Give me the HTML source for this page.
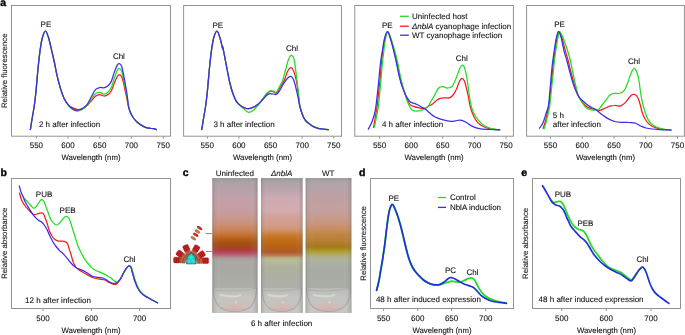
<!DOCTYPE html>
<html><head><meta charset="utf-8"><style>
html,body{margin:0;padding:0;background:#fff;}
svg{display:block;will-change:transform;}
text{font-family:"Liberation Sans",sans-serif;fill:#111;stroke:#111;stroke-width:0.1px;text-rendering:geometricPrecision;}
</style></head><body>
<svg width="685" height="335" viewBox="0 0 685 335" xmlns="http://www.w3.org/2000/svg">
<text x="0.3" y="5.9" font-size="10.5" font-weight="bold" style="fill:#000;stroke:#000;stroke-width:0.4px">a</text>
<text x="0.5" y="175.8" font-size="10.5" font-weight="bold" style="fill:#000;stroke:#000;stroke-width:0.4px">b</text>
<text x="182.7" y="175.9" font-size="10.5" font-weight="bold" style="fill:#000;stroke:#000;stroke-width:0.4px">c</text>
<text x="359.1" y="175.7" font-size="10.5" font-weight="bold" style="fill:#000;stroke:#000;stroke-width:0.4px">d</text>
<text x="521.3" y="175.9" font-size="10.5" font-weight="bold" style="fill:#000;stroke:#000;stroke-width:0.4px">e</text>
<rect x="11.5" y="5.5" width="159.0" height="130.7" fill="none" stroke="#939393" stroke-width="1"/>
<line x1="36.40" y1="136.2" x2="36.40" y2="138.7" stroke="#939393" stroke-width="1"/><line x1="68.00" y1="136.2" x2="68.00" y2="138.7" stroke="#939393" stroke-width="1"/><line x1="99.70" y1="136.2" x2="99.70" y2="138.7" stroke="#939393" stroke-width="1"/><line x1="131.40" y1="136.2" x2="131.40" y2="138.7" stroke="#939393" stroke-width="1"/><line x1="163.30" y1="136.2" x2="163.30" y2="138.7" stroke="#939393" stroke-width="1"/>
<text x="36.40" y="148.00" font-size="8.00" text-anchor="middle" >550</text><text x="68.00" y="148.00" font-size="8.00" text-anchor="middle" >600</text><text x="99.70" y="148.00" font-size="8.00" text-anchor="middle" >650</text><text x="131.40" y="148.00" font-size="8.00" text-anchor="middle" >700</text><text x="163.30" y="148.00" font-size="8.00" text-anchor="middle" >750</text>
<text x="91.00" y="159.90" font-size="7.80" text-anchor="middle" >Wavelength (nm)</text>
<rect x="183.6" y="5.5" width="157.9" height="130.7" fill="none" stroke="#939393" stroke-width="1"/>
<line x1="207.30" y1="136.2" x2="207.30" y2="138.7" stroke="#939393" stroke-width="1"/><line x1="238.90" y1="136.2" x2="238.90" y2="138.7" stroke="#939393" stroke-width="1"/><line x1="270.60" y1="136.2" x2="270.60" y2="138.7" stroke="#939393" stroke-width="1"/><line x1="302.20" y1="136.2" x2="302.20" y2="138.7" stroke="#939393" stroke-width="1"/><line x1="333.80" y1="136.2" x2="333.80" y2="138.7" stroke="#939393" stroke-width="1"/>
<text x="207.30" y="148.00" font-size="8.00" text-anchor="middle" >550</text><text x="238.90" y="148.00" font-size="8.00" text-anchor="middle" >600</text><text x="270.60" y="148.00" font-size="8.00" text-anchor="middle" >650</text><text x="302.20" y="148.00" font-size="8.00" text-anchor="middle" >700</text><text x="333.80" y="148.00" font-size="8.00" text-anchor="middle" >750</text>
<text x="262.55" y="159.90" font-size="7.80" text-anchor="middle" >Wavelength (nm)</text>
<rect x="354.8" y="5.5" width="158.6" height="130.7" fill="none" stroke="#939393" stroke-width="1"/>
<line x1="379.60" y1="136.2" x2="379.60" y2="138.7" stroke="#939393" stroke-width="1"/><line x1="411.20" y1="136.2" x2="411.20" y2="138.7" stroke="#939393" stroke-width="1"/><line x1="442.80" y1="136.2" x2="442.80" y2="138.7" stroke="#939393" stroke-width="1"/><line x1="474.50" y1="136.2" x2="474.50" y2="138.7" stroke="#939393" stroke-width="1"/><line x1="506.10" y1="136.2" x2="506.10" y2="138.7" stroke="#939393" stroke-width="1"/>
<text x="379.60" y="148.00" font-size="8.00" text-anchor="middle" >550</text><text x="411.20" y="148.00" font-size="8.00" text-anchor="middle" >600</text><text x="442.80" y="148.00" font-size="8.00" text-anchor="middle" >650</text><text x="474.50" y="148.00" font-size="8.00" text-anchor="middle" >700</text><text x="506.10" y="148.00" font-size="8.00" text-anchor="middle" >750</text>
<text x="434.10" y="159.90" font-size="7.80" text-anchor="middle" >Wavelength (nm)</text>
<rect x="526.6" y="5.5" width="157.8" height="130.7" fill="none" stroke="#939393" stroke-width="1"/>
<line x1="550.50" y1="136.2" x2="550.50" y2="138.7" stroke="#939393" stroke-width="1"/><line x1="582.30" y1="136.2" x2="582.30" y2="138.7" stroke="#939393" stroke-width="1"/><line x1="614.00" y1="136.2" x2="614.00" y2="138.7" stroke="#939393" stroke-width="1"/><line x1="645.70" y1="136.2" x2="645.70" y2="138.7" stroke="#939393" stroke-width="1"/><line x1="677.50" y1="136.2" x2="677.50" y2="138.7" stroke="#939393" stroke-width="1"/>
<text x="550.50" y="148.00" font-size="8.00" text-anchor="middle" >550</text><text x="582.30" y="148.00" font-size="8.00" text-anchor="middle" >600</text><text x="614.00" y="148.00" font-size="8.00" text-anchor="middle" >650</text><text x="645.70" y="148.00" font-size="8.00" text-anchor="middle" >700</text><text x="677.50" y="148.00" font-size="8.00" text-anchor="middle" >750</text>
<text x="605.50" y="159.90" font-size="7.80" text-anchor="middle" >Wavelength (nm)</text>
<text x="0" y="0" font-size="7.80" text-anchor="middle" transform="translate(6.90 70.80) rotate(-90)">Relative fluorescence</text>
<path d="M30.40 129.50C30.70 127.58 31.58 121.75 32.20 118.00C32.82 114.25 33.53 110.83 34.10 107.00C34.67 103.17 35.18 98.77 35.60 95.00C36.02 91.23 36.27 88.07 36.60 84.40C36.93 80.73 37.25 76.73 37.60 73.00C37.95 69.27 38.25 66.02 38.70 62.00C39.15 57.98 39.68 52.98 40.30 48.90C40.92 44.82 41.53 40.45 42.40 37.50C43.27 34.55 44.48 31.20 45.50 31.20C46.52 31.20 47.53 34.55 48.50 37.50C49.47 40.45 50.33 44.82 51.30 48.90C52.27 52.98 53.35 57.58 54.30 62.00C55.25 66.42 55.95 70.92 57.00 75.40C58.05 79.88 59.43 85.08 60.60 88.90C61.77 92.72 62.77 95.68 64.00 98.30C65.23 100.92 66.53 103.00 68.00 104.60C69.47 106.20 71.13 107.08 72.80 107.90C74.47 108.72 76.30 109.42 78.00 109.50C79.70 109.58 81.47 109.05 83.00 108.40C84.53 107.75 85.78 106.90 87.20 105.60C88.62 104.30 90.13 102.17 91.50 100.60C92.87 99.03 94.00 97.20 95.40 96.20C96.80 95.20 98.52 94.63 99.90 94.60C101.28 94.57 102.45 95.92 103.70 96.00C104.95 96.08 106.17 95.90 107.40 95.10C108.63 94.30 109.98 93.08 111.10 91.20C112.22 89.32 113.10 86.20 114.10 83.80C115.10 81.40 116.18 78.32 117.10 76.80C118.02 75.28 118.78 74.57 119.60 74.70C120.42 74.83 121.20 75.55 122.00 77.60C122.80 79.65 123.67 83.85 124.40 87.00C125.13 90.15 125.83 93.75 126.40 96.50C126.97 99.25 127.37 101.48 127.80 103.50C128.23 105.52 128.52 107.03 129.00 108.60C129.48 110.17 129.95 111.33 130.70 112.90C131.45 114.47 132.45 116.48 133.50 118.00C134.55 119.52 135.77 120.85 137.00 122.00C138.23 123.15 139.48 124.02 140.90 124.90C142.32 125.78 143.98 126.73 145.50 127.30C147.02 127.87 148.67 128.07 150.00 128.30C151.33 128.53 152.43 128.48 153.50 128.70C154.57 128.92 155.92 129.45 156.40 129.60" fill="none" stroke="#f21c1c" stroke-width="1.25" stroke-linejoin="round" stroke-linecap="round"/>
<path d="M30.40 129.50C30.70 127.58 31.58 121.75 32.20 118.00C32.82 114.25 33.53 110.83 34.10 107.00C34.67 103.17 35.18 98.77 35.60 95.00C36.02 91.23 36.27 88.07 36.60 84.40C36.93 80.73 37.25 76.73 37.60 73.00C37.95 69.27 38.25 66.02 38.70 62.00C39.15 57.98 39.68 52.98 40.30 48.90C40.92 44.82 41.53 40.45 42.40 37.50C43.27 34.55 44.48 31.20 45.50 31.20C46.52 31.20 47.53 34.55 48.50 37.50C49.47 40.45 50.33 44.82 51.30 48.90C52.27 52.98 53.35 57.58 54.30 62.00C55.25 66.42 55.95 70.92 57.00 75.40C58.05 79.88 59.43 85.08 60.60 88.90C61.77 92.72 62.77 95.68 64.00 98.30C65.23 100.92 66.67 102.82 68.00 104.60C69.33 106.38 70.50 107.90 72.00 109.00C73.50 110.10 75.28 111.12 77.00 111.20C78.72 111.28 80.60 110.50 82.30 109.50C84.00 108.50 85.67 106.95 87.20 105.20C88.73 103.45 90.13 100.90 91.50 99.00C92.87 97.10 94.00 94.92 95.40 93.80C96.80 92.68 98.52 92.25 99.90 92.30C101.28 92.35 102.45 94.03 103.70 94.10C104.95 94.17 106.17 93.75 107.40 92.70C108.63 91.65 109.98 90.08 111.10 87.80C112.22 85.52 113.10 81.83 114.10 79.00C115.10 76.17 116.23 72.52 117.10 70.80C117.97 69.08 118.55 68.62 119.30 68.70C120.05 68.78 120.80 69.17 121.60 71.30C122.40 73.43 123.33 78.05 124.10 81.50C124.87 84.95 125.62 88.92 126.20 92.00C126.78 95.08 127.17 97.42 127.60 100.00C128.03 102.58 128.28 105.35 128.80 107.50C129.32 109.65 129.92 111.15 130.70 112.90C131.48 114.65 132.45 116.48 133.50 118.00C134.55 119.52 135.77 120.85 137.00 122.00C138.23 123.15 139.48 124.02 140.90 124.90C142.32 125.78 143.98 126.73 145.50 127.30C147.02 127.87 148.67 128.07 150.00 128.30C151.33 128.53 152.43 128.48 153.50 128.70C154.57 128.92 155.92 129.45 156.40 129.60" fill="none" stroke="#22dc22" stroke-width="1.25" stroke-linejoin="round" stroke-linecap="round"/>
<path d="M30.40 129.50C30.70 127.58 31.58 121.75 32.20 118.00C32.82 114.25 33.53 110.83 34.10 107.00C34.67 103.17 35.18 98.77 35.60 95.00C36.02 91.23 36.27 88.07 36.60 84.40C36.93 80.73 37.25 76.73 37.60 73.00C37.95 69.27 38.25 66.02 38.70 62.00C39.15 57.98 39.68 52.98 40.30 48.90C40.92 44.82 41.53 40.45 42.40 37.50C43.27 34.55 44.48 31.20 45.50 31.20C46.52 31.20 47.53 34.55 48.50 37.50C49.47 40.45 50.33 44.82 51.30 48.90C52.27 52.98 53.35 57.58 54.30 62.00C55.25 66.42 55.95 70.92 57.00 75.40C58.05 79.88 59.43 85.08 60.60 88.90C61.77 92.72 62.77 95.68 64.00 98.30C65.23 100.92 66.67 102.90 68.00 104.60C69.33 106.30 70.60 107.55 72.00 108.50C73.40 109.45 74.68 110.27 76.40 110.30C78.12 110.33 80.50 109.70 82.30 108.70C84.10 107.70 85.67 106.33 87.20 104.30C88.73 102.27 90.13 98.95 91.50 96.50C92.87 94.05 94.00 91.10 95.40 89.60C96.80 88.10 98.52 87.80 99.90 87.50C101.28 87.20 102.45 88.00 103.70 87.80C104.95 87.60 106.17 87.28 107.40 86.30C108.63 85.32 109.98 84.13 111.10 81.90C112.22 79.67 113.10 75.65 114.10 72.90C115.10 70.15 116.23 66.93 117.10 65.40C117.97 63.87 118.55 63.57 119.30 63.70C120.05 63.83 120.80 63.92 121.60 66.20C122.40 68.48 123.33 73.60 124.10 77.40C124.87 81.20 125.65 85.73 126.20 89.00C126.75 92.27 127.00 94.02 127.40 97.00C127.80 99.98 128.05 104.25 128.60 106.90C129.15 109.55 129.88 111.05 130.70 112.90C131.52 114.75 132.45 116.48 133.50 118.00C134.55 119.52 135.77 120.85 137.00 122.00C138.23 123.15 139.48 124.02 140.90 124.90C142.32 125.78 143.98 126.73 145.50 127.30C147.02 127.87 148.67 128.07 150.00 128.30C151.33 128.53 152.43 128.48 153.50 128.70C154.57 128.92 155.92 129.45 156.40 129.60" fill="none" stroke="#3a2cf0" stroke-width="1.25" stroke-linejoin="round" stroke-linecap="round"/>
<path d="M201.80 129.50C202.10 127.58 202.98 121.75 203.60 118.00C204.22 114.25 204.93 110.83 205.50 107.00C206.07 103.17 206.58 98.77 207.00 95.00C207.42 91.23 207.67 88.07 208.00 84.40C208.33 80.73 208.65 76.73 209.00 73.00C209.35 69.27 209.65 66.02 210.10 62.00C210.55 57.98 211.08 52.98 211.70 48.90C212.32 44.82 212.93 40.45 213.80 37.50C214.67 34.55 215.88 31.20 216.90 31.20C217.92 31.20 218.93 34.55 219.90 37.50C220.87 40.45 222.22 47.28 222.70 48.90C223.18 50.52 222.33 45.18 222.80 47.20C223.27 49.22 224.67 56.70 225.50 61.00C226.33 65.30 227.05 69.25 227.80 73.00C228.55 76.75 229.27 80.42 230.00 83.50C230.73 86.58 231.45 89.17 232.20 91.50C232.95 93.83 233.75 95.77 234.50 97.50C235.25 99.23 235.78 100.60 236.70 101.90C237.62 103.20 238.78 104.35 240.00 105.30C241.22 106.25 242.60 107.00 244.00 107.60C245.40 108.20 246.73 109.00 248.40 108.90C250.07 108.80 252.30 107.82 254.00 107.00C255.70 106.18 257.10 105.37 258.60 104.00C260.10 102.63 261.60 100.55 263.00 98.80C264.40 97.05 265.67 94.77 267.00 93.50C268.33 92.23 269.83 91.42 271.00 91.20C272.17 90.98 273.08 91.90 274.00 92.20C274.92 92.50 275.50 93.78 276.50 93.00C277.50 92.22 278.68 89.67 280.00 87.50C281.32 85.33 283.15 82.67 284.40 80.00C285.65 77.33 286.40 73.58 287.50 71.50C288.60 69.42 289.95 67.50 291.00 67.50C292.05 67.50 292.90 69.25 293.80 71.50C294.70 73.75 295.63 77.08 296.40 81.00C297.17 84.92 297.88 91.08 298.40 95.00C298.92 98.92 299.07 101.92 299.50 104.50C299.93 107.08 300.35 108.43 301.00 110.50C301.65 112.57 302.57 115.15 303.40 116.90C304.23 118.65 304.87 119.73 306.00 121.00C307.13 122.27 308.87 123.52 310.20 124.50C311.53 125.48 312.70 126.27 314.00 126.90C315.30 127.53 316.50 127.95 318.00 128.30C319.50 128.65 321.28 128.77 323.00 129.00C324.72 129.23 327.42 129.58 328.30 129.70" fill="none" stroke="#f21c1c" stroke-width="1.25" stroke-linejoin="round" stroke-linecap="round"/>
<path d="M201.80 129.50C202.10 127.58 202.98 121.75 203.60 118.00C204.22 114.25 204.93 110.83 205.50 107.00C206.07 103.17 206.58 98.77 207.00 95.00C207.42 91.23 207.67 88.07 208.00 84.40C208.33 80.73 208.65 76.73 209.00 73.00C209.35 69.27 209.65 66.02 210.10 62.00C210.55 57.98 211.08 52.98 211.70 48.90C212.32 44.82 212.93 40.45 213.80 37.50C214.67 34.55 215.88 31.20 216.90 31.20C217.92 31.20 218.93 34.55 219.90 37.50C220.87 40.45 222.22 47.28 222.70 48.90C223.18 50.52 222.33 45.18 222.80 47.20C223.27 49.22 224.67 56.70 225.50 61.00C226.33 65.30 227.05 69.25 227.80 73.00C228.55 76.75 229.27 80.42 230.00 83.50C230.73 86.58 231.45 89.17 232.20 91.50C232.95 93.83 233.75 95.77 234.50 97.50C235.25 99.23 235.78 100.60 236.70 101.90C237.62 103.20 238.78 104.12 240.00 105.30C241.22 106.48 242.67 107.85 244.00 109.00C245.33 110.15 246.50 111.95 248.00 112.20C249.50 112.45 251.23 111.78 253.00 110.50C254.77 109.22 256.93 106.50 258.60 104.50C260.27 102.50 261.60 100.42 263.00 98.50C264.40 96.58 265.65 94.30 267.00 93.00C268.35 91.70 269.93 90.95 271.10 90.70C272.27 90.45 273.10 91.28 274.00 91.50C274.90 91.72 275.58 92.83 276.50 92.00C277.42 91.17 278.45 88.50 279.50 86.50C280.55 84.50 281.80 82.75 282.80 80.00C283.80 77.25 284.55 73.42 285.50 70.00C286.45 66.58 287.52 61.93 288.50 59.50C289.48 57.07 290.45 55.32 291.40 55.40C292.35 55.48 293.28 55.90 294.20 60.00C295.12 64.10 296.17 74.33 296.90 80.00C297.63 85.67 298.13 89.92 298.60 94.00C299.07 98.08 299.30 101.75 299.70 104.50C300.10 107.25 300.38 108.43 301.00 110.50C301.62 112.57 302.57 115.15 303.40 116.90C304.23 118.65 304.87 119.73 306.00 121.00C307.13 122.27 308.87 123.52 310.20 124.50C311.53 125.48 312.70 126.27 314.00 126.90C315.30 127.53 316.50 127.95 318.00 128.30C319.50 128.65 321.28 128.77 323.00 129.00C324.72 129.23 327.42 129.58 328.30 129.70" fill="none" stroke="#22dc22" stroke-width="1.25" stroke-linejoin="round" stroke-linecap="round"/>
<path d="M201.80 129.50C202.10 127.58 202.98 121.75 203.60 118.00C204.22 114.25 204.93 110.83 205.50 107.00C206.07 103.17 206.58 98.77 207.00 95.00C207.42 91.23 207.67 88.07 208.00 84.40C208.33 80.73 208.65 76.73 209.00 73.00C209.35 69.27 209.65 66.02 210.10 62.00C210.55 57.98 211.08 52.98 211.70 48.90C212.32 44.82 212.93 40.45 213.80 37.50C214.67 34.55 215.88 31.20 216.90 31.20C217.92 31.20 218.93 34.55 219.90 37.50C220.87 40.45 222.22 47.28 222.70 48.90C223.18 50.52 222.33 45.18 222.80 47.20C223.27 49.22 224.67 56.70 225.50 61.00C226.33 65.30 227.05 69.25 227.80 73.00C228.55 76.75 229.27 80.42 230.00 83.50C230.73 86.58 231.45 89.17 232.20 91.50C232.95 93.83 233.75 95.77 234.50 97.50C235.25 99.23 235.78 100.60 236.70 101.90C237.62 103.20 238.78 104.35 240.00 105.30C241.22 106.25 242.60 107.03 244.00 107.60C245.40 108.17 246.73 108.83 248.40 108.70C250.07 108.57 252.30 107.62 254.00 106.80C255.70 105.98 257.10 105.05 258.60 103.80C260.10 102.55 261.60 100.77 263.00 99.30C264.40 97.83 265.83 95.93 267.00 95.00C268.17 94.07 269.00 93.87 270.00 93.70C271.00 93.53 271.92 93.90 273.00 94.00C274.08 94.10 275.33 94.97 276.50 94.30C277.67 93.63 278.80 91.80 280.00 90.00C281.20 88.20 282.45 85.45 283.70 83.50C284.95 81.55 286.33 79.50 287.50 78.30C288.67 77.10 289.70 76.10 290.70 76.30C291.70 76.50 292.58 77.38 293.50 79.50C294.42 81.62 295.42 85.92 296.20 89.00C296.98 92.08 297.67 95.42 298.20 98.00C298.73 100.58 298.93 102.42 299.40 104.50C299.87 106.58 300.33 108.43 301.00 110.50C301.67 112.57 302.57 115.15 303.40 116.90C304.23 118.65 304.87 119.73 306.00 121.00C307.13 122.27 308.87 123.52 310.20 124.50C311.53 125.48 312.70 126.27 314.00 126.90C315.30 127.53 316.50 127.95 318.00 128.30C319.50 128.65 321.28 128.77 323.00 129.00C324.72 129.23 327.42 129.58 328.30 129.70" fill="none" stroke="#3a2cf0" stroke-width="1.25" stroke-linejoin="round" stroke-linecap="round"/>
<path d="M373.60 127.30C373.87 125.75 374.60 121.58 375.20 118.00C375.80 114.42 376.62 110.13 377.20 105.80C377.78 101.47 378.23 96.30 378.70 92.00C379.17 87.70 379.60 84.17 380.00 80.00C380.40 75.83 380.65 71.67 381.10 67.00C381.55 62.33 382.08 56.67 382.70 52.00C383.32 47.33 383.98 42.40 384.80 39.00C385.62 35.60 386.62 31.60 387.60 31.60C388.58 31.60 389.63 35.77 390.70 39.00C391.77 42.23 392.95 46.92 394.00 51.00C395.05 55.08 396.18 59.83 397.00 63.50C397.82 67.17 398.18 69.75 398.90 73.00C399.62 76.25 400.43 79.92 401.30 83.00C402.17 86.08 403.15 88.83 404.10 91.50C405.05 94.17 405.95 96.77 407.00 99.00C408.05 101.23 409.07 103.60 410.40 104.90C411.73 106.20 413.57 106.32 415.00 106.80C416.43 107.28 417.83 107.53 419.00 107.80C420.17 108.07 420.88 108.35 422.00 108.40C423.12 108.45 424.53 108.50 425.70 108.10C426.87 107.70 427.80 106.73 429.00 106.00C430.20 105.27 431.65 104.62 432.90 103.70C434.15 102.78 435.32 101.38 436.50 100.50C437.68 99.62 438.67 98.85 440.00 98.40C441.33 97.95 442.97 97.88 444.50 97.80C446.03 97.72 447.77 98.37 449.20 97.90C450.63 97.43 451.88 96.48 453.10 95.00C454.32 93.52 455.43 91.30 456.50 89.00C457.57 86.70 458.60 82.98 459.50 81.20C460.40 79.42 461.08 78.33 461.90 78.30C462.72 78.27 463.62 79.22 464.40 81.00C465.18 82.78 465.97 86.50 466.60 89.00C467.23 91.50 467.70 93.58 468.20 96.00C468.70 98.42 469.05 101.03 469.60 103.50C470.15 105.97 470.77 108.55 471.50 110.80C472.23 113.05 473.12 115.25 474.00 117.00C474.88 118.75 475.80 120.05 476.80 121.30C477.80 122.55 478.92 123.63 480.00 124.50C481.08 125.37 481.87 125.83 483.30 126.50C484.73 127.17 486.82 128.03 488.60 128.50C490.38 128.97 492.15 129.08 494.00 129.30C495.85 129.52 498.75 129.72 499.70 129.80" fill="none" stroke="#f21c1c" stroke-width="1.25" stroke-linejoin="round" stroke-linecap="round"/>
<path d="M374.50 127.00C374.78 125.50 375.53 121.53 376.20 118.00C376.87 114.47 377.90 110.13 378.50 105.80C379.10 101.47 379.38 96.30 379.80 92.00C380.22 87.70 380.63 84.17 381.00 80.00C381.37 75.83 381.57 71.50 382.00 67.00C382.43 62.50 383.03 57.58 383.60 53.00C384.17 48.42 384.68 43.05 385.40 39.50C386.12 35.95 386.95 31.78 387.90 31.70C388.85 31.62 389.95 35.78 391.10 39.00C392.25 42.22 393.68 46.92 394.80 51.00C395.92 55.08 396.98 59.83 397.80 63.50C398.62 67.17 399.02 69.75 399.70 73.00C400.38 76.25 401.13 79.92 401.90 83.00C402.67 86.08 403.45 88.58 404.30 91.50C405.15 94.42 405.98 97.75 407.00 100.50C408.02 103.25 409.40 106.32 410.40 108.00C411.40 109.68 411.90 110.10 413.00 110.60C414.10 111.10 415.83 111.00 417.00 111.00C418.17 111.00 419.08 110.80 420.00 110.60C420.92 110.40 421.63 110.13 422.50 109.80C423.37 109.47 424.27 109.15 425.20 108.60C426.13 108.05 427.13 107.68 428.10 106.50C429.07 105.32 429.90 103.42 431.00 101.50C432.10 99.58 433.48 97.17 434.70 95.00C435.92 92.83 437.10 89.88 438.30 88.50C439.50 87.12 440.83 86.92 441.90 86.70C442.97 86.48 443.72 86.98 444.70 87.20C445.68 87.42 446.63 88.08 447.80 88.00C448.97 87.92 450.58 87.70 451.70 86.70C452.82 85.70 453.53 84.03 454.50 82.00C455.47 79.97 456.55 76.92 457.50 74.50C458.45 72.08 459.37 69.05 460.20 67.50C461.03 65.95 461.73 65.03 462.50 65.20C463.27 65.37 464.07 66.37 464.80 68.50C465.53 70.63 466.27 74.42 466.90 78.00C467.53 81.58 468.08 86.33 468.60 90.00C469.12 93.67 469.50 97.08 470.00 100.00C470.50 102.92 471.02 105.42 471.60 107.50C472.18 109.58 472.72 110.83 473.50 112.50C474.28 114.17 475.32 116.03 476.30 117.50C477.28 118.97 478.37 120.13 479.40 121.30C480.43 122.47 481.40 123.63 482.50 124.50C483.60 125.37 484.67 125.87 486.00 126.50C487.33 127.13 489.00 127.87 490.50 128.30C492.00 128.73 493.47 128.85 495.00 129.10C496.53 129.35 498.92 129.68 499.70 129.80" fill="none" stroke="#22dc22" stroke-width="1.25" stroke-linejoin="round" stroke-linecap="round"/>
<path d="M368.30 129.10C368.58 128.58 369.40 127.18 370.00 126.00C370.60 124.82 371.15 124.00 371.90 122.00C372.65 120.00 373.82 116.70 374.50 114.00C375.18 111.30 375.45 109.80 376.00 105.80C376.55 101.80 377.25 95.13 377.80 90.00C378.35 84.87 378.83 79.67 379.30 75.00C379.77 70.33 380.08 66.03 380.60 62.00C381.12 57.97 381.75 54.72 382.40 50.80C383.05 46.88 383.67 41.72 384.50 38.50C385.33 35.28 386.42 31.50 387.40 31.50C388.38 31.50 389.35 35.28 390.40 38.50C391.45 41.72 392.68 46.72 393.70 50.80C394.72 54.88 395.70 59.30 396.50 63.00C397.30 66.70 397.75 69.67 398.50 73.00C399.25 76.33 400.07 79.92 401.00 83.00C401.93 86.08 403.10 89.08 404.10 91.50C405.10 93.92 405.95 95.75 407.00 97.50C408.05 99.25 409.07 100.98 410.40 102.00C411.73 103.02 413.57 103.02 415.00 103.60C416.43 104.18 417.83 104.87 419.00 105.50C420.17 106.13 421.02 106.85 422.00 107.40C422.98 107.95 423.65 107.90 424.90 108.80C426.15 109.70 427.87 111.48 429.50 112.80C431.13 114.12 432.73 115.62 434.70 116.70C436.67 117.78 438.67 118.53 441.30 119.30C443.93 120.07 448.13 121.05 450.50 121.30C452.87 121.55 453.97 120.98 455.50 120.80C457.03 120.62 458.23 120.12 459.70 120.20C461.17 120.28 462.92 120.75 464.30 121.30C465.68 121.85 466.80 122.73 468.00 123.50C469.20 124.27 470.17 125.18 471.50 125.90C472.83 126.62 474.47 127.30 476.00 127.80C477.53 128.30 478.37 128.62 480.70 128.90C483.03 129.18 486.83 129.35 490.00 129.50C493.17 129.65 498.08 129.75 499.70 129.80" fill="none" stroke="#3a2cf0" stroke-width="1.25" stroke-linejoin="round" stroke-linecap="round"/>
<path d="M543.10 128.50C543.47 127.33 544.60 124.08 545.30 121.50C546.00 118.92 546.70 115.62 547.30 113.00C547.90 110.38 548.33 109.63 548.90 105.80C549.47 101.97 550.17 94.97 550.70 90.00C551.23 85.03 551.65 80.50 552.10 76.00C552.55 71.50 552.93 67.08 553.40 63.00C553.87 58.92 554.32 55.50 554.90 51.50C555.48 47.50 556.25 42.32 556.90 39.00C557.55 35.68 557.98 31.85 558.80 31.60C559.62 31.35 560.70 34.30 561.80 37.50C562.90 40.70 564.32 46.88 565.40 50.80C566.48 54.72 567.47 57.80 568.30 61.00C569.13 64.20 569.70 67.17 570.40 70.00C571.10 72.83 571.68 75.08 572.50 78.00C573.32 80.92 574.23 84.35 575.30 87.50C576.37 90.65 577.28 93.95 578.90 96.90C580.52 99.85 583.37 103.42 585.00 105.20C586.63 106.98 587.45 106.97 588.70 107.60C589.95 108.23 591.22 108.62 592.50 109.00C593.78 109.38 595.18 109.68 596.40 109.90C597.62 110.12 598.53 110.50 599.80 110.30C601.07 110.10 602.32 109.38 604.00 108.70C605.68 108.02 608.07 106.73 609.90 106.20C611.73 105.67 613.33 105.52 615.00 105.50C616.67 105.48 618.65 106.22 619.90 106.10C621.15 105.98 621.60 105.38 622.50 104.80C623.40 104.22 624.30 103.65 625.30 102.60C626.30 101.55 627.47 99.77 628.50 98.50C629.53 97.23 630.58 95.70 631.50 95.00C632.42 94.30 633.17 94.20 634.00 94.30C634.83 94.40 635.72 94.68 636.50 95.60C637.28 96.52 638.05 98.15 638.70 99.80C639.35 101.45 639.88 103.63 640.40 105.50C640.92 107.37 641.27 109.25 641.80 111.00C642.33 112.75 642.95 114.50 643.60 116.00C644.25 117.50 644.87 118.73 645.70 120.00C646.53 121.27 647.52 122.55 648.60 123.60C649.68 124.65 650.97 125.60 652.20 126.30C653.43 127.00 654.67 127.40 656.00 127.80C657.33 128.20 658.70 128.42 660.20 128.70C661.70 128.98 663.20 129.28 665.00 129.50C666.80 129.72 670.00 129.92 671.00 130.00" fill="none" stroke="#f21c1c" stroke-width="1.25" stroke-linejoin="round" stroke-linecap="round"/>
<path d="M544.00 129.00C544.38 127.75 545.58 124.17 546.30 121.50C547.02 118.83 547.73 115.62 548.30 113.00C548.87 110.38 549.18 109.63 549.70 105.80C550.22 101.97 550.87 94.97 551.40 90.00C551.93 85.03 552.43 80.50 552.90 76.00C553.37 71.50 553.73 67.17 554.20 63.00C554.67 58.83 555.12 55.00 555.70 51.00C556.28 47.00 557.05 42.23 557.70 39.00C558.35 35.77 558.72 31.85 559.60 31.60C560.48 31.35 561.67 34.30 563.00 37.50C564.33 40.70 566.35 46.88 567.60 50.80C568.85 54.72 569.72 57.80 570.50 61.00C571.28 64.20 571.72 67.17 572.30 70.00C572.88 72.83 573.35 75.08 574.00 78.00C574.65 80.92 575.38 84.35 576.20 87.50C577.02 90.65 577.43 93.73 578.90 96.90C580.37 100.07 583.37 104.45 585.00 106.50C586.63 108.55 587.45 108.60 588.70 109.20C589.95 109.80 591.22 109.97 592.50 110.10C593.78 110.23 595.40 110.10 596.40 110.00C597.40 109.90 597.57 110.33 598.50 109.50C599.43 108.67 600.67 106.70 602.00 105.00C603.33 103.30 605.30 100.87 606.50 99.30C607.70 97.73 608.30 96.48 609.20 95.60C610.10 94.72 611.02 94.37 611.90 94.00C612.78 93.63 613.57 93.48 614.50 93.40C615.43 93.32 616.37 93.62 617.50 93.50C618.63 93.38 620.12 93.28 621.30 92.70C622.48 92.12 623.52 91.70 624.60 90.00C625.68 88.30 626.68 85.42 627.80 82.50C628.92 79.58 630.22 74.87 631.30 72.50C632.38 70.13 633.35 68.30 634.30 68.30C635.25 68.30 636.22 70.38 637.00 72.50C637.78 74.62 638.42 77.75 639.00 81.00C639.58 84.25 639.97 88.58 640.50 92.00C641.03 95.42 641.60 98.70 642.20 101.50C642.80 104.30 643.47 106.63 644.10 108.80C644.73 110.97 645.33 112.70 646.00 114.50C646.67 116.30 647.27 118.10 648.10 119.60C648.93 121.10 649.87 122.38 651.00 123.50C652.13 124.62 653.40 125.50 654.90 126.30C656.40 127.10 658.32 127.80 660.00 128.30C661.68 128.80 663.17 129.02 665.00 129.30C666.83 129.58 670.00 129.88 671.00 130.00" fill="none" stroke="#22dc22" stroke-width="1.25" stroke-linejoin="round" stroke-linecap="round"/>
<path d="M539.50 128.20C539.83 127.75 540.83 126.62 541.50 125.50C542.17 124.38 542.72 123.58 543.50 121.50C544.28 119.42 545.38 115.62 546.20 113.00C547.02 110.38 547.77 109.63 548.40 105.80C549.03 101.97 549.53 94.97 550.00 90.00C550.47 85.03 550.78 80.50 551.20 76.00C551.62 71.50 552.00 67.20 552.50 63.00C553.00 58.80 553.58 54.88 554.20 50.80C554.82 46.72 555.52 41.72 556.20 38.50C556.88 35.28 557.50 31.75 558.30 31.50C559.10 31.25 560.05 33.78 561.00 37.00C561.95 40.22 563.00 46.80 564.00 50.80C565.00 54.80 566.12 57.80 567.00 61.00C567.88 64.20 568.55 67.17 569.30 70.00C570.05 72.83 570.63 75.08 571.50 78.00C572.37 80.92 573.27 84.35 574.50 87.50C575.73 90.65 577.15 94.35 578.90 96.90C580.65 99.45 583.37 101.32 585.00 102.80C586.63 104.28 587.45 104.93 588.70 105.80C589.95 106.67 591.22 107.32 592.50 108.00C593.78 108.68 595.07 108.98 596.40 109.90C597.73 110.82 599.03 112.33 600.50 113.50C601.97 114.67 603.62 115.88 605.20 116.90C606.78 117.92 608.43 118.83 610.00 119.60C611.57 120.37 612.60 121.05 614.60 121.50C616.60 121.95 619.55 122.13 622.00 122.30C624.45 122.47 627.18 122.40 629.30 122.50C631.42 122.60 633.25 122.57 634.70 122.90C636.15 123.23 636.88 123.93 638.00 124.50C639.12 125.07 640.07 125.72 641.40 126.30C642.73 126.88 644.20 127.55 646.00 128.00C647.80 128.45 649.87 128.73 652.20 129.00C654.53 129.27 656.87 129.43 660.00 129.60C663.13 129.77 669.17 129.93 671.00 130.00" fill="none" stroke="#3a2cf0" stroke-width="1.25" stroke-linejoin="round" stroke-linecap="round"/>
<text x="40.60" y="27.40" font-size="8.00" text-anchor="start" >PE</text>
<text x="112.90" y="59.30" font-size="8.00" text-anchor="start" >Chl</text>
<text x="38.90" y="126.90" font-size="8.00" text-anchor="start" >2 h after infection</text>
<text x="212.40" y="27.90" font-size="8.00" text-anchor="start" >PE</text>
<text x="286.00" y="51.10" font-size="8.00" text-anchor="start" >Chl</text>
<text x="213.40" y="127.30" font-size="8.00" text-anchor="start" >3 h after infection</text>
<text x="381.90" y="27.80" font-size="8.00" text-anchor="start" >PE</text>
<text x="455.80" y="60.50" font-size="8.00" text-anchor="start" >Chl</text>
<text x="381.90" y="127.20" font-size="8.00" text-anchor="start" >4 h after infection</text>
<text x="554.20" y="26.90" font-size="8.00" text-anchor="start" >PE</text>
<text x="628.00" y="63.70" font-size="8.00" text-anchor="start" >Chl</text>
<text x="552.80" y="117.80" font-size="8.00" text-anchor="start" >5 h</text>
<text x="552.80" y="126.60" font-size="8.00" text-anchor="start" >after infection</text>
<line x1="400.1" y1="16.3" x2="408.8" y2="16.3" stroke="#22dc22" stroke-width="1.3"/>
<line x1="400.1" y1="26.2" x2="408.8" y2="26.2" stroke="#f21c1c" stroke-width="1.3"/>
<line x1="400.1" y1="35.2" x2="408.8" y2="35.2" stroke="#3a2cf0" stroke-width="1.3"/>
<text x="412.00" y="19.00" font-size="8.00" text-anchor="start" >Uninfected host</text>
<text x="412.00" y="28.60" font-size="8.00" text-anchor="start" ><tspan font-style="italic">&#916;nblA</tspan> cyanophage infection</text>
<text x="412.00" y="37.90" font-size="8.00" text-anchor="start" >WT cyanophage infection</text>
<rect x="11.5" y="178.5" width="159.0" height="130.0" fill="none" stroke="#939393" stroke-width="1"/>
<line x1="43.00" y1="308.5" x2="43.00" y2="311.0" stroke="#939393" stroke-width="1"/><line x1="91.40" y1="308.5" x2="91.40" y2="311.0" stroke="#939393" stroke-width="1"/><line x1="139.60" y1="308.5" x2="139.60" y2="311.0" stroke="#939393" stroke-width="1"/>
<text x="43.00" y="321.20" font-size="8.00" text-anchor="middle" >500</text><text x="91.40" y="321.20" font-size="8.00" text-anchor="middle" >600</text><text x="139.60" y="321.20" font-size="8.00" text-anchor="middle" >700</text>
<text x="91.00" y="332.80" font-size="7.80" text-anchor="middle" >Wavelength (nm)</text>
<text x="0" y="0" font-size="7.80" text-anchor="middle" transform="translate(6.90 243.30) rotate(-90)">Relative absorbance</text>
<path d="M19.50 193.20C19.75 194.08 20.42 196.90 21.00 198.50C21.58 200.10 22.25 201.50 23.00 202.80C23.75 204.10 24.67 205.23 25.50 206.30C26.33 207.37 27.17 208.25 28.00 209.20C28.83 210.15 29.67 211.15 30.50 212.00C31.33 212.85 32.25 213.87 33.00 214.30C33.75 214.73 34.32 214.65 35.00 214.60C35.68 214.55 36.35 214.23 37.10 214.00C37.85 213.77 38.75 213.40 39.50 213.20C40.25 213.00 40.93 212.70 41.60 212.80C42.27 212.90 42.93 213.02 43.50 213.80C44.07 214.58 44.42 215.97 45.00 217.50C45.58 219.03 46.25 220.72 47.00 223.00C47.75 225.28 48.67 229.03 49.50 231.20C50.33 233.37 51.10 234.60 52.00 236.00C52.90 237.40 53.83 238.75 54.90 239.60C55.97 240.45 57.22 240.83 58.40 241.10C59.58 241.37 60.83 241.08 62.00 241.20C63.17 241.32 64.48 241.42 65.40 241.80C66.32 242.18 66.90 242.43 67.50 243.50C68.10 244.57 68.42 246.37 69.00 248.20C69.58 250.03 70.27 252.10 71.00 254.50C71.73 256.90 72.65 260.60 73.40 262.60C74.15 264.60 74.75 265.43 75.50 266.50C76.25 267.57 76.90 268.17 77.90 269.00C78.90 269.83 80.30 270.75 81.50 271.50C82.70 272.25 83.77 272.75 85.10 273.50C86.43 274.25 88.02 275.25 89.50 276.00C90.98 276.75 92.33 277.47 94.00 278.00C95.67 278.53 97.70 278.88 99.50 279.20C101.30 279.52 103.17 279.35 104.80 279.90C106.43 280.45 107.82 281.77 109.30 282.50C110.78 283.23 112.62 284.00 113.70 284.30C114.78 284.60 115.08 284.60 115.80 284.30C116.52 284.00 117.18 283.43 118.00 282.50C118.82 281.57 119.95 279.95 120.70 278.70C121.45 277.45 121.90 276.20 122.50 275.00C123.10 273.80 123.55 272.78 124.30 271.50C125.05 270.22 126.17 268.25 127.00 267.30C127.83 266.35 128.63 265.77 129.30 265.80C129.97 265.83 130.48 266.38 131.00 267.50C131.52 268.62 131.87 270.58 132.40 272.50C132.93 274.42 133.60 277.08 134.20 279.00C134.80 280.92 135.37 282.42 136.00 284.00C136.63 285.58 137.27 287.15 138.00 288.50C138.73 289.85 139.48 291.02 140.40 292.10C141.32 293.18 142.30 294.10 143.50 295.00C144.70 295.90 146.10 296.62 147.60 297.50C149.10 298.38 150.85 299.42 152.50 300.30C154.15 301.18 156.67 302.38 157.50 302.80" fill="none" stroke="#f21c1c" stroke-width="1.25" stroke-linejoin="round" stroke-linecap="round"/>
<path d="M23.10 196.80C23.38 197.17 24.22 198.33 24.80 199.00C25.38 199.67 25.70 199.83 26.60 200.80C27.50 201.77 29.00 203.53 30.20 204.80C31.40 206.07 32.60 208.40 33.80 208.40C35.00 208.40 36.37 206.07 37.40 204.80C38.43 203.53 39.22 201.65 40.00 200.80C40.78 199.95 41.43 199.58 42.10 199.70C42.77 199.82 43.35 200.30 44.00 201.50C44.65 202.70 45.30 205.02 46.00 206.90C46.70 208.78 47.45 210.82 48.20 212.80C48.95 214.78 49.70 217.17 50.50 218.80C51.30 220.43 52.02 221.57 53.00 222.60C53.98 223.63 55.40 224.85 56.40 225.00C57.40 225.15 58.07 224.32 59.00 223.50C59.93 222.68 61.08 221.13 62.00 220.10C62.92 219.07 63.68 217.90 64.50 217.30C65.32 216.70 66.15 216.30 66.90 216.50C67.65 216.70 68.32 217.30 69.00 218.50C69.68 219.70 70.30 221.62 71.00 223.70C71.70 225.78 72.47 228.62 73.20 231.00C73.93 233.38 74.62 235.55 75.40 238.00C76.18 240.45 76.97 243.28 77.90 245.70C78.83 248.12 79.95 250.40 81.00 252.50C82.05 254.60 83.03 256.47 84.20 258.30C85.37 260.13 86.67 261.87 88.00 263.50C89.33 265.13 90.78 266.88 92.20 268.10C93.62 269.32 95.00 270.05 96.50 270.80C98.00 271.55 99.78 271.98 101.20 272.60C102.62 273.22 103.87 273.90 105.00 274.50C106.13 275.10 107.00 275.62 108.00 276.20C109.00 276.78 110.05 277.28 111.00 278.00C111.95 278.72 112.78 279.80 113.70 280.50C114.62 281.20 115.70 282.03 116.50 282.20C117.30 282.37 117.75 282.20 118.50 281.50C119.25 280.80 120.25 279.17 121.00 278.00C121.75 276.83 122.33 275.70 123.00 274.50C123.67 273.30 124.25 272.05 125.00 270.80C125.75 269.55 126.73 267.83 127.50 267.00C128.27 266.17 128.93 265.72 129.60 265.80C130.27 265.88 130.93 266.30 131.50 267.50C132.07 268.70 132.45 271.08 133.00 273.00C133.55 274.92 134.20 277.17 134.80 279.00C135.40 280.83 135.97 282.42 136.60 284.00C137.23 285.58 137.87 287.17 138.60 288.50C139.33 289.83 140.10 290.95 141.00 292.00C141.90 293.05 142.83 293.92 144.00 294.80C145.17 295.68 146.58 296.43 148.00 297.30C149.42 298.17 150.92 299.08 152.50 300.00C154.08 300.92 156.67 302.33 157.50 302.80" fill="none" stroke="#22dc22" stroke-width="1.25" stroke-linejoin="round" stroke-linecap="round"/>
<path d="M19.30 186.00C19.58 187.00 20.37 190.20 21.00 192.00C21.63 193.80 22.43 195.22 23.10 196.80C23.77 198.38 24.35 200.13 25.00 201.50C25.65 202.87 26.18 203.62 27.00 205.00C27.82 206.38 28.97 208.33 29.90 209.80C30.83 211.27 31.70 212.53 32.60 213.80C33.50 215.07 34.32 216.32 35.30 217.40C36.28 218.48 37.45 219.52 38.50 220.30C39.55 221.08 40.65 221.32 41.60 222.10C42.55 222.88 43.32 223.80 44.20 225.00C45.08 226.20 45.87 227.30 46.90 229.30C47.93 231.30 49.38 234.88 50.40 237.00C51.42 239.12 52.12 240.50 53.00 242.00C53.88 243.50 54.53 244.48 55.70 246.00C56.87 247.52 58.80 249.87 60.00 251.10C61.20 252.33 61.70 252.20 62.90 253.40C64.10 254.60 65.93 256.78 67.20 258.30C68.47 259.82 69.32 261.17 70.50 262.50C71.68 263.83 73.13 265.30 74.30 266.30C75.47 267.30 76.30 267.90 77.50 268.50C78.70 269.10 80.00 269.23 81.50 269.90C83.00 270.57 84.72 271.45 86.50 272.50C88.28 273.55 90.37 275.38 92.20 276.20C94.03 277.02 95.70 277.10 97.50 277.40C99.30 277.70 101.33 277.45 103.00 278.00C104.67 278.55 106.25 279.95 107.50 280.70C108.75 281.45 109.47 282.05 110.50 282.50C111.53 282.95 112.88 283.27 113.70 283.40C114.52 283.53 114.68 283.60 115.40 283.30C116.12 283.00 117.12 282.37 118.00 281.60C118.88 280.83 119.95 279.80 120.70 278.70C121.45 277.60 121.90 276.20 122.50 275.00C123.10 273.80 123.55 272.78 124.30 271.50C125.05 270.22 126.17 268.25 127.00 267.30C127.83 266.35 128.63 265.77 129.30 265.80C129.97 265.83 130.48 266.38 131.00 267.50C131.52 268.62 131.87 270.58 132.40 272.50C132.93 274.42 133.60 277.08 134.20 279.00C134.80 280.92 135.37 282.42 136.00 284.00C136.63 285.58 137.27 287.15 138.00 288.50C138.73 289.85 139.48 291.02 140.40 292.10C141.32 293.18 142.30 294.10 143.50 295.00C144.70 295.90 146.10 296.62 147.60 297.50C149.10 298.38 150.85 299.42 152.50 300.30C154.15 301.18 156.67 302.38 157.50 302.80" fill="none" stroke="#3a2cf0" stroke-width="1.25" stroke-linejoin="round" stroke-linecap="round"/>
<text x="35.80" y="196.50" font-size="8.00" text-anchor="start" >PUB</text>
<text x="59.60" y="212.50" font-size="8.00" text-anchor="start" >PEB</text>
<text x="123.40" y="261.70" font-size="8.00" text-anchor="start" >Chl</text>
<text x="25.10" y="302.80" font-size="8.00" text-anchor="start" >12 h after infection</text>
<rect x="370.5" y="178.5" width="143.0" height="130.0" fill="none" stroke="#939393" stroke-width="1"/>
<line x1="383.60" y1="308.5" x2="383.60" y2="311.0" stroke="#939393" stroke-width="1"/><line x1="417.70" y1="308.5" x2="417.70" y2="311.0" stroke="#939393" stroke-width="1"/><line x1="451.60" y1="308.5" x2="451.60" y2="311.0" stroke="#939393" stroke-width="1"/><line x1="485.80" y1="308.5" x2="485.80" y2="311.0" stroke="#939393" stroke-width="1"/>
<text x="383.60" y="321.20" font-size="8.00" text-anchor="middle" >550</text><text x="417.70" y="321.20" font-size="8.00" text-anchor="middle" >600</text><text x="451.60" y="321.20" font-size="8.00" text-anchor="middle" >650</text><text x="485.80" y="321.20" font-size="8.00" text-anchor="middle" >700</text>
<text x="442.00" y="332.80" font-size="7.80" text-anchor="middle" >Wavelength (nm)</text>
<text x="0" y="0" font-size="7.80" text-anchor="middle" transform="translate(366.20 243.40) rotate(-90)">Relative fluorescence</text>
<path d="M376.60 290.30C376.98 288.75 378.23 284.22 378.90 281.00C379.57 277.78 380.05 274.17 380.60 271.00C381.15 267.83 381.73 264.83 382.20 262.00C382.67 259.17 382.98 256.83 383.40 254.00C383.82 251.17 384.30 248.03 384.70 245.00C385.10 241.97 385.38 239.30 385.80 235.80C386.22 232.30 386.73 227.58 387.20 224.00C387.67 220.42 388.12 216.97 388.60 214.30C389.08 211.63 389.48 209.67 390.10 208.00C390.72 206.33 391.55 204.30 392.30 204.30C393.05 204.30 393.80 206.33 394.60 208.00C395.40 209.67 396.30 212.05 397.10 214.30C397.90 216.55 398.68 219.10 399.40 221.50C400.12 223.90 400.62 225.62 401.40 228.70C402.18 231.78 403.18 236.20 404.10 240.00C405.02 243.80 406.05 248.25 406.90 251.50C407.75 254.75 408.33 257.00 409.20 259.50C410.07 262.00 411.05 264.45 412.10 266.50C413.15 268.55 414.23 270.15 415.50 271.80C416.77 273.45 418.37 275.03 419.70 276.40C421.03 277.77 422.13 278.93 423.50 280.00C424.87 281.07 426.57 282.08 427.90 282.80C429.23 283.52 430.27 283.95 431.50 284.30C432.73 284.65 434.13 284.82 435.30 284.90C436.47 284.98 437.47 284.90 438.50 284.80C439.53 284.70 440.42 284.60 441.50 284.30C442.58 284.00 443.52 283.50 445.00 283.00C446.48 282.50 448.73 281.53 450.40 281.30C452.07 281.07 453.35 281.50 455.00 281.60C456.65 281.70 458.57 282.20 460.30 281.90C462.03 281.60 463.95 280.40 465.40 279.80C466.85 279.20 467.88 278.60 469.00 278.30C470.12 278.00 471.18 277.75 472.10 278.00C473.02 278.25 473.77 278.88 474.50 279.80C475.23 280.72 475.78 282.15 476.50 283.50C477.22 284.85 477.73 286.17 478.80 287.90C479.87 289.63 481.33 292.23 482.90 293.90C484.47 295.57 485.97 296.72 488.20 297.90C490.43 299.08 493.27 300.13 496.30 301.00C499.33 301.87 504.72 302.75 506.40 303.10" fill="none" stroke="#22dc22" stroke-width="1.80" stroke-linejoin="round" stroke-linecap="round"/>
<path d="M376.60 290.30C376.98 288.75 378.23 284.22 378.90 281.00C379.57 277.78 380.05 274.17 380.60 271.00C381.15 267.83 381.73 264.83 382.20 262.00C382.67 259.17 382.98 256.83 383.40 254.00C383.82 251.17 384.30 248.03 384.70 245.00C385.10 241.97 385.38 239.30 385.80 235.80C386.22 232.30 386.73 227.58 387.20 224.00C387.67 220.42 388.12 216.97 388.60 214.30C389.08 211.63 389.48 209.67 390.10 208.00C390.72 206.33 391.55 204.30 392.30 204.30C393.05 204.30 393.80 206.33 394.60 208.00C395.40 209.67 396.30 212.05 397.10 214.30C397.90 216.55 398.68 219.10 399.40 221.50C400.12 223.90 400.62 225.62 401.40 228.70C402.18 231.78 403.18 236.20 404.10 240.00C405.02 243.80 406.05 248.25 406.90 251.50C407.75 254.75 408.33 257.00 409.20 259.50C410.07 262.00 411.05 264.45 412.10 266.50C413.15 268.55 414.23 270.15 415.50 271.80C416.77 273.45 418.37 275.03 419.70 276.40C421.03 277.77 422.13 278.93 423.50 280.00C424.87 281.07 426.57 282.08 427.90 282.80C429.23 283.52 430.27 283.95 431.50 284.30C432.73 284.65 434.13 284.82 435.30 284.90C436.47 284.98 437.47 284.98 438.50 284.80C439.53 284.62 440.42 284.38 441.50 283.80C442.58 283.22 443.92 282.13 445.00 281.30C446.08 280.47 447.10 279.40 448.00 278.80C448.90 278.20 449.57 277.83 450.40 277.70C451.23 277.57 452.07 277.70 453.00 278.00C453.93 278.30 454.78 278.85 456.00 279.50C457.22 280.15 458.97 281.15 460.30 281.90C461.63 282.65 462.70 283.42 464.00 284.00C465.30 284.58 466.85 284.98 468.10 285.40C469.35 285.82 470.43 286.02 471.50 286.50C472.57 286.98 473.58 287.58 474.50 288.30C475.42 289.02 475.83 289.53 477.00 290.80C478.17 292.07 479.85 294.48 481.50 295.90C483.15 297.32 485.15 298.42 486.90 299.30C488.65 300.18 489.98 300.68 492.00 301.20C494.02 301.72 496.60 302.05 499.00 302.40C501.40 302.75 505.17 303.15 506.40 303.30" fill="none" stroke="#1e32d8" stroke-width="1.70" stroke-linejoin="round" stroke-linecap="round"/>
<text x="388.50" y="200.80" font-size="8.00" text-anchor="start" >PE</text>
<text x="444.90" y="273.40" font-size="8.00" text-anchor="start" >PC</text>
<text x="466.40" y="274.50" font-size="8.00" text-anchor="start" >Chl</text>
<text x="375.90" y="302.40" font-size="8.00" text-anchor="start" >48 h after induced expression</text>
<line x1="437.9" y1="197.5" x2="446.1" y2="197.5" stroke="#22dc22" stroke-width="1.3"/>
<line x1="437.9" y1="207.4" x2="446.1" y2="207.4" stroke="#3a2cf0" stroke-width="1.3"/>
<text x="449.90" y="200.10" font-size="8.00" text-anchor="start" >Control</text>
<text x="449.90" y="210.00" font-size="8.00" text-anchor="start" >NblA induction</text>
<rect x="532.5" y="178.5" width="148.0" height="130.0" fill="none" stroke="#939393" stroke-width="1"/>
<line x1="561.70" y1="308.5" x2="561.70" y2="311.0" stroke="#939393" stroke-width="1"/><line x1="606.30" y1="308.5" x2="606.30" y2="311.0" stroke="#939393" stroke-width="1"/><line x1="651.00" y1="308.5" x2="651.00" y2="311.0" stroke="#939393" stroke-width="1"/>
<text x="561.70" y="321.20" font-size="8.00" text-anchor="middle" >500</text><text x="606.30" y="321.20" font-size="8.00" text-anchor="middle" >600</text><text x="651.00" y="321.20" font-size="8.00" text-anchor="middle" >700</text>
<text x="606.50" y="332.80" font-size="7.80" text-anchor="middle" >Wavelength (nm)</text>
<text x="0" y="0" font-size="7.80" text-anchor="middle" transform="translate(528.00 243.40) rotate(-90)">Relative absorbance</text>
<path d="M550.50 199.70C550.88 200.08 552.05 201.55 552.80 202.00C553.55 202.45 554.13 202.48 555.00 202.40C555.87 202.32 557.10 201.65 558.00 201.50C558.90 201.35 559.55 201.05 560.40 201.50C561.25 201.95 562.28 202.95 563.10 204.20C563.92 205.45 564.55 207.22 565.30 209.00C566.05 210.78 566.82 213.07 567.60 214.90C568.38 216.73 569.12 218.35 570.00 220.00C570.88 221.65 571.82 223.42 572.90 224.80C573.98 226.18 575.32 227.47 576.50 228.30C577.68 229.13 578.92 229.38 580.00 229.80C581.08 230.22 582.10 230.20 583.00 230.80C583.90 231.40 584.60 232.20 585.40 233.40C586.20 234.60 586.92 236.18 587.80 238.00C588.68 239.82 589.67 242.30 590.70 244.30C591.73 246.30 592.80 248.20 594.00 250.00C595.20 251.80 596.57 253.35 597.90 255.10C599.23 256.85 600.50 258.72 602.00 260.50C603.50 262.28 605.40 264.47 606.90 265.80C608.40 267.13 609.52 267.75 611.00 268.50C612.48 269.25 614.38 269.75 615.80 270.30C617.22 270.85 618.30 271.20 619.50 271.80C620.70 272.40 621.75 272.98 623.00 273.90C624.25 274.82 625.67 276.32 627.00 277.30C628.33 278.28 629.92 279.72 631.00 279.80C632.08 279.88 632.72 278.68 633.50 277.80C634.28 276.92 634.78 275.80 635.70 274.50C636.62 273.20 637.88 271.25 639.00 270.00C640.12 268.75 641.83 267.50 642.40 267.00" fill="none" stroke="#22dc22" stroke-width="1.75" stroke-linejoin="round" stroke-linecap="round"/>
<path d="M542.50 185.70C542.88 186.33 544.05 188.22 544.80 189.50C545.55 190.78 546.18 191.98 547.00 193.40C547.82 194.82 548.82 196.50 549.70 198.00C550.58 199.50 551.27 201.22 552.30 202.40C553.33 203.58 554.70 204.50 555.90 205.10C557.10 205.70 558.30 205.25 559.50 206.00C560.70 206.75 562.18 208.40 563.10 209.60C564.02 210.80 564.40 211.87 565.00 213.20C565.60 214.53 566.03 216.08 566.70 217.60C567.37 219.12 568.27 220.80 569.00 222.30C569.73 223.80 570.00 225.00 571.10 226.60C572.20 228.20 574.12 230.23 575.60 231.90C577.08 233.57 578.68 235.35 580.00 236.60C581.32 237.85 582.30 238.27 583.50 239.40C584.70 240.53 586.03 241.80 587.20 243.40C588.37 245.00 589.32 247.05 590.50 249.00C591.68 250.95 592.80 253.10 594.30 255.10C595.80 257.10 597.70 259.22 599.50 261.00C601.30 262.78 603.35 264.47 605.10 265.80C606.85 267.13 608.22 267.95 610.00 269.00C611.78 270.05 614.22 271.33 615.80 272.10C617.38 272.87 618.30 273.00 619.50 273.60C620.70 274.20 621.75 274.87 623.00 275.70C624.25 276.53 625.67 277.72 627.00 278.60C628.33 279.48 629.92 281.02 631.00 281.00C632.08 280.98 632.72 279.48 633.50 278.50C634.28 277.52 634.78 276.52 635.70 275.10C636.62 273.68 637.88 271.35 639.00 270.00C640.12 268.65 641.43 267.08 642.40 267.00C643.37 266.92 644.12 268.45 644.80 269.50C645.48 270.55 645.90 271.72 646.50 273.30C647.10 274.88 647.80 277.22 648.40 279.00C649.00 280.78 649.47 282.42 650.10 284.00C650.73 285.58 651.45 287.15 652.20 288.50C652.95 289.85 653.72 291.02 654.60 292.10C655.48 293.18 656.47 294.10 657.50 295.00C658.53 295.90 659.58 296.58 660.80 297.50C662.02 298.42 663.45 299.52 664.80 300.50C666.15 301.48 668.22 302.92 668.90 303.40" fill="none" stroke="#1e32d8" stroke-width="1.70" stroke-linejoin="round" stroke-linecap="round"/>
<text x="554.70" y="197.10" font-size="8.00" text-anchor="start" >PUB</text>
<text x="577.40" y="226.10" font-size="8.00" text-anchor="start" >PEB</text>
<text x="636.60" y="262.00" font-size="8.00" text-anchor="start" >Chl</text>
<text x="538.60" y="302.20" font-size="8.00" text-anchor="start" >48 h after induced expression</text>
<defs>
<linearGradient id="t1" x1="0" y1="178.0" x2="0" y2="313.5" gradientUnits="userSpaceOnUse"><stop offset="0.0000" stop-color="#a5a0a3"/><stop offset="0.0369" stop-color="#aca3a7"/><stop offset="0.0886" stop-color="#b7a0a8"/><stop offset="0.1476" stop-color="#c3a0a8"/><stop offset="0.2362" stop-color="#c59ea0"/><stop offset="0.2952" stop-color="#c8988c"/><stop offset="0.3469" stop-color="#cc8e73"/><stop offset="0.3911" stop-color="#ca8052"/><stop offset="0.4280" stop-color="#c06c2a"/><stop offset="0.4576" stop-color="#b25a14"/><stop offset="0.4834" stop-color="#a64e0e"/><stop offset="0.5055" stop-color="#a4481a"/><stop offset="0.5203" stop-color="#a8402a"/><stop offset="0.5387" stop-color="#b0404a"/><stop offset="0.5572" stop-color="#b65068"/><stop offset="0.5756" stop-color="#b47880"/><stop offset="0.5941" stop-color="#b09c9a"/><stop offset="0.6125" stop-color="#aaa8a4"/><stop offset="0.6790" stop-color="#a9a9a4"/><stop offset="0.8266" stop-color="#adada9"/><stop offset="1.0000" stop-color="#b4b4b1"/></linearGradient>
<linearGradient id="t2" x1="0" y1="178.0" x2="0" y2="313.5" gradientUnits="userSpaceOnUse"><stop offset="0.0000" stop-color="#a6a1a4"/><stop offset="0.0369" stop-color="#ada4a8"/><stop offset="0.0886" stop-color="#bba4ac"/><stop offset="0.1476" stop-color="#cdaab2"/><stop offset="0.2362" stop-color="#d2acb0"/><stop offset="0.2952" stop-color="#d2a096"/><stop offset="0.3542" stop-color="#d29a88"/><stop offset="0.3911" stop-color="#d08e62"/><stop offset="0.4207" stop-color="#c97a30"/><stop offset="0.4576" stop-color="#c06c16"/><stop offset="0.4945" stop-color="#b86410"/><stop offset="0.5240" stop-color="#b45e1c"/><stop offset="0.5461" stop-color="#b0582a"/><stop offset="0.5683" stop-color="#b47448"/><stop offset="0.5867" stop-color="#bca87c"/><stop offset="0.6052" stop-color="#b8bc98"/><stop offset="0.6347" stop-color="#b2b69c"/><stop offset="0.6716" stop-color="#aeb19a"/><stop offset="0.7232" stop-color="#acafa2"/><stop offset="0.8266" stop-color="#adafa9"/><stop offset="1.0000" stop-color="#b4b4b0"/></linearGradient>
<linearGradient id="t3" x1="0" y1="178.0" x2="0" y2="313.5" gradientUnits="userSpaceOnUse"><stop offset="0.0000" stop-color="#a6a1a4"/><stop offset="0.0369" stop-color="#aea5a8"/><stop offset="0.0886" stop-color="#b8a2a8"/><stop offset="0.1476" stop-color="#bea0a0"/><stop offset="0.2362" stop-color="#c3a09e"/><stop offset="0.2952" stop-color="#c69b8c"/><stop offset="0.3395" stop-color="#c8947a"/><stop offset="0.3838" stop-color="#c68c5c"/><stop offset="0.4207" stop-color="#c08440"/><stop offset="0.4576" stop-color="#b88034"/><stop offset="0.4871" stop-color="#ac7a24"/><stop offset="0.5092" stop-color="#a47818"/><stop offset="0.5314" stop-color="#aa9424"/><stop offset="0.5498" stop-color="#aea238"/><stop offset="0.5683" stop-color="#b0ac70"/><stop offset="0.5904" stop-color="#b0b290"/><stop offset="0.6199" stop-color="#acb0a2"/><stop offset="0.6790" stop-color="#a8aba3"/><stop offset="0.8266" stop-color="#a9aba7"/><stop offset="1.0000" stop-color="#b0b0ae"/></linearGradient>
<linearGradient id="edge" x1="0" y1="0" x2="1" y2="0">
<stop offset="0" stop-color="#6e6e6e" stop-opacity="0.35"/>
<stop offset="0.04" stop-color="#7e7e7e" stop-opacity="0.2"/>
<stop offset="0.10" stop-color="#a0a0a0" stop-opacity="0.06"/>
<stop offset="0.18" stop-color="#ffffff" stop-opacity="0.0"/>
<stop offset="0.82" stop-color="#ffffff" stop-opacity="0.0"/>
<stop offset="0.90" stop-color="#a0a0a0" stop-opacity="0.08"/>
<stop offset="0.96" stop-color="#7e7e7e" stop-opacity="0.24"/>
<stop offset="1" stop-color="#6e6e6e" stop-opacity="0.38"/>
</linearGradient>
<radialGradient id="glow" cx="0.5" cy="0.85" r="0.5">
<stop offset="0" stop-color="#e0a898" stop-opacity="0.6"/>
<stop offset="0.55" stop-color="#c8b8b2" stop-opacity="0.3"/>
<stop offset="1" stop-color="#c0c0bc" stop-opacity="0.2"/>
</radialGradient>
<linearGradient id="ubase" x1="0" y1="0" x2="0" y2="1">
<stop offset="0" stop-color="#b8b9b5"/>
<stop offset="0.35" stop-color="#c4c5c1"/>
<stop offset="1" stop-color="#cbc6c3"/>
</linearGradient>
<linearGradient id="topshade" x1="0" y1="0" x2="0" y2="1">
<stop offset="0" stop-color="#808080" stop-opacity="0.18"/>
<stop offset="1" stop-color="#808080" stop-opacity="0"/>
</linearGradient>
</defs>
<rect x="211.8" y="177.8" width="140" height="135" fill="#ffffff"/>
<rect x="212.3" y="178" width="45.3" height="134.8" fill="url(#t1)"/>
<rect x="212.3" y="178" width="45.3" height="5" fill="url(#topshade)"/>
<path d="M213.3 288.0 C213.7 302.6 218.6 311.6 235.0 311.6 C251.3 311.6 256.2 302.6 256.6 288.0 L257.6 312.8 L212.3 312.8 Z" fill="#c6c6c4"/>
<path d="M213.3 288.0 C213.7 302.6 218.6 311.6 235.0 311.6 C251.3 311.6 256.2 302.6 256.6 288.0 Z" fill="url(#ubase)"/>
<path d="M213.3 288.0 C213.7 302.6 218.6 311.6 235.0 311.6 C251.3 311.6 256.2 302.6 256.6 288.0 Z" fill="url(#glow)"/>
<path d="M215.8 300.0 C216.8 308.1 222.3 309.8 235.0 309.8 C247.6 309.8 253.1 308.1 254.1 300.0" fill="none" stroke="#d89c8c" stroke-width="1.8" stroke-opacity="0.3"/>
<path d="M213.3 288.0 C213.7 302.6 218.6 311.6 235.0 311.6 C251.3 311.6 256.2 302.6 256.6 288.0" fill="none" stroke="#9c9c9a" stroke-width="0.8" stroke-opacity="0.8"/>
<path d="M220.5 295.0 Q232.7 297.8 240.4 295.2" fill="none" stroke="#eeeeea" stroke-width="2.2" stroke-opacity="0.45" stroke-linecap="round"/>
<circle cx="236.0" cy="302.4" r="1.1" fill="#f0f0ec" fill-opacity="0.5"/>
<path d="M214.3 290.0 Q235.0 292.5 255.6 288.5" fill="none" stroke="#a0a09c" stroke-width="0.7" stroke-opacity="0.7"/>
<rect x="212.3" y="178" width="45.3" height="134.8" fill="url(#edge)"/>
<rect x="261.0" y="178" width="41.6" height="134.8" fill="url(#t2)"/>
<rect x="261.0" y="178" width="41.6" height="5" fill="url(#topshade)"/>
<path d="M262.0 288.0 C262.4 302.6 266.8 311.6 281.8 311.6 C296.8 311.6 301.2 302.6 301.6 288.0 L302.6 312.8 L261.0 312.8 Z" fill="#c6c6c4"/>
<path d="M262.0 288.0 C262.4 302.6 266.8 311.6 281.8 311.6 C296.8 311.6 301.2 302.6 301.6 288.0 Z" fill="url(#ubase)"/>
<path d="M262.0 288.0 C262.4 302.6 266.8 311.6 281.8 311.6 C296.8 311.6 301.2 302.6 301.6 288.0 Z" fill="url(#glow)"/>
<path d="M264.5 300.0 C265.5 308.1 270.2 309.8 281.8 309.8 C293.4 309.8 298.1 308.1 299.1 300.0" fill="none" stroke="#d89c8c" stroke-width="1.8" stroke-opacity="0.3"/>
<path d="M262.0 288.0 C262.4 302.6 266.8 311.6 281.8 311.6 C296.8 311.6 301.2 302.6 301.6 288.0" fill="none" stroke="#9c9c9a" stroke-width="0.8" stroke-opacity="0.8"/>
<path d="M268.5 295.0 Q279.7 297.8 286.8 295.2" fill="none" stroke="#eeeeea" stroke-width="2.2" stroke-opacity="0.45" stroke-linecap="round"/>
<circle cx="282.8" cy="302.4" r="1.1" fill="#f0f0ec" fill-opacity="0.5"/>
<path d="M263.0 290.0 Q281.8 292.5 300.6 288.5" fill="none" stroke="#a0a09c" stroke-width="0.7" stroke-opacity="0.7"/>
<rect x="261.0" y="178" width="41.6" height="134.8" fill="url(#edge)"/>
<rect x="305.6" y="178" width="45.8" height="134.8" fill="url(#t3)"/>
<rect x="305.6" y="178" width="45.8" height="5" fill="url(#topshade)"/>
<path d="M306.6 288.0 C307.0 302.6 312.0 311.6 328.5 311.6 C345.0 311.6 350.0 302.6 350.4 288.0 L351.4 312.8 L305.6 312.8 Z" fill="#c6c6c4"/>
<path d="M306.6 288.0 C307.0 302.6 312.0 311.6 328.5 311.6 C345.0 311.6 350.0 302.6 350.4 288.0 Z" fill="url(#ubase)"/>
<path d="M306.6 288.0 C307.0 302.6 312.0 311.6 328.5 311.6 C345.0 311.6 350.0 302.6 350.4 288.0 Z" fill="url(#glow)"/>
<path d="M309.1 300.0 C310.1 308.1 315.7 309.8 328.5 309.8 C341.3 309.8 346.9 308.1 347.9 300.0" fill="none" stroke="#d89c8c" stroke-width="1.8" stroke-opacity="0.3"/>
<path d="M306.6 288.0 C307.0 302.6 312.0 311.6 328.5 311.6 C345.0 311.6 350.0 302.6 350.4 288.0" fill="none" stroke="#9c9c9a" stroke-width="0.8" stroke-opacity="0.8"/>
<path d="M313.8 295.0 Q326.2 297.8 334.0 295.2" fill="none" stroke="#eeeeea" stroke-width="2.2" stroke-opacity="0.45" stroke-linecap="round"/>
<circle cx="329.5" cy="302.4" r="1.1" fill="#f0f0ec" fill-opacity="0.5"/>
<path d="M307.6 290.0 Q328.5 292.5 349.4 288.5" fill="none" stroke="#a0a09c" stroke-width="0.7" stroke-opacity="0.7"/>
<rect x="305.6" y="178" width="45.8" height="134.8" fill="url(#edge)"/>
<text x="234.90" y="176.10" font-size="8.00" text-anchor="middle" >Uninfected</text>
<text x="281.60" y="176.10" font-size="8.00" text-anchor="middle" font-style="italic">&#916;nblA</text>
<text x="328.10" y="175.90" font-size="8.00" text-anchor="middle" >WT</text>
<text x="281.60" y="326.30" font-size="8.00" text-anchor="middle" >6 h after infection</text>
<line x1="205.8" y1="233.6" x2="211.8" y2="233.6" stroke="#777" stroke-width="0.9"/>
<line x1="205.8" y1="251.4" x2="211.8" y2="251.4" stroke="#777" stroke-width="0.9"/>
<ellipse cx="199.6" cy="228.0" rx="2.9" ry="1.25" fill="#d42a2a" stroke="#8c1212" stroke-width="0.35" transform="rotate(31 199.6 228.0)"/>
<ellipse cx="197.4" cy="231.4" rx="2.9" ry="1.25" fill="#c8784e" stroke="#8a4a2a" stroke-width="0.35" transform="rotate(31 197.4 231.4)"/>
<ellipse cx="195.8" cy="234.8" rx="2.9" ry="1.25" fill="#d42a2a" stroke="#8c1212" stroke-width="0.35" transform="rotate(31 195.8 234.8)"/>
<ellipse cx="193.4" cy="238.2" rx="2.9" ry="1.25" fill="#c8784e" stroke="#8a4a2a" stroke-width="0.35" transform="rotate(31 193.4 238.2)"/>
<g transform="translate(185.50 260.40) rotate(-178.0)"><rect x="0" y="-2.75" width="5.40" height="5.50" fill="#b8693f" stroke="#7a3b1e" stroke-width="0.3"/><rect x="5.40" y="-2.90" width="6.60" height="5.80" fill="#cf2727" stroke="#8a1010" stroke-width="0.3" rx="1.3"/><line x1="2.70" y1="-2.70" x2="2.70" y2="2.70" stroke="#7a3a1c" stroke-width="0.6"/><line x1="7.25" y1="-2.90" x2="7.25" y2="2.90" stroke="#8a0e0e" stroke-width="0.6"/><line x1="9.03" y1="-2.90" x2="9.03" y2="2.90" stroke="#8a0e0e" stroke-width="0.6"/><line x1="10.68" y1="-2.90" x2="10.68" y2="2.90" stroke="#8a0e0e" stroke-width="0.6"/></g>
<g transform="translate(196.70 260.70) rotate(0.0)"><rect x="0" y="-2.75" width="5.40" height="5.50" fill="#b8693f" stroke="#7a3b1e" stroke-width="0.3"/><rect x="5.40" y="-2.90" width="6.60" height="5.80" fill="#cf2727" stroke="#8a1010" stroke-width="0.3" rx="1.3"/><line x1="2.70" y1="-2.70" x2="2.70" y2="2.70" stroke="#7a3a1c" stroke-width="0.6"/><line x1="7.25" y1="-2.90" x2="7.25" y2="2.90" stroke="#8a0e0e" stroke-width="0.6"/><line x1="9.03" y1="-2.90" x2="9.03" y2="2.90" stroke="#8a0e0e" stroke-width="0.6"/><line x1="10.68" y1="-2.90" x2="10.68" y2="2.90" stroke="#8a0e0e" stroke-width="0.6"/></g>
<g transform="translate(186.80 259.00) rotate(-143.0)"><rect x="0" y="-2.75" width="5.40" height="5.50" fill="#b8693f" stroke="#7a3b1e" stroke-width="0.3"/><rect x="5.40" y="-2.90" width="6.60" height="5.80" fill="#cf2727" stroke="#8a1010" stroke-width="0.3" rx="1.3"/><line x1="2.70" y1="-2.70" x2="2.70" y2="2.70" stroke="#7a3a1c" stroke-width="0.6"/><line x1="7.25" y1="-2.90" x2="7.25" y2="2.90" stroke="#8a0e0e" stroke-width="0.6"/><line x1="9.03" y1="-2.90" x2="9.03" y2="2.90" stroke="#8a0e0e" stroke-width="0.6"/><line x1="10.68" y1="-2.90" x2="10.68" y2="2.90" stroke="#8a0e0e" stroke-width="0.6"/></g>
<g transform="translate(194.40 259.30) rotate(-34.0)"><rect x="0" y="-2.75" width="5.40" height="5.50" fill="#b8693f" stroke="#7a3b1e" stroke-width="0.3"/><rect x="5.40" y="-2.90" width="6.60" height="5.80" fill="#cf2727" stroke="#8a1010" stroke-width="0.3" rx="1.3"/><line x1="2.70" y1="-2.70" x2="2.70" y2="2.70" stroke="#7a3a1c" stroke-width="0.6"/><line x1="7.25" y1="-2.90" x2="7.25" y2="2.90" stroke="#8a0e0e" stroke-width="0.6"/><line x1="9.03" y1="-2.90" x2="9.03" y2="2.90" stroke="#8a0e0e" stroke-width="0.6"/><line x1="10.68" y1="-2.90" x2="10.68" y2="2.90" stroke="#8a0e0e" stroke-width="0.6"/></g>
<g transform="translate(189.80 256.20) rotate(-113.6)"><rect x="0" y="-2.75" width="5.40" height="5.50" fill="#b8693f" stroke="#7a3b1e" stroke-width="0.3"/><rect x="5.40" y="-2.90" width="6.60" height="5.80" fill="#cf2727" stroke="#8a1010" stroke-width="0.3" rx="1.3"/><line x1="2.70" y1="-2.70" x2="2.70" y2="2.70" stroke="#7a3a1c" stroke-width="0.6"/><line x1="7.25" y1="-2.90" x2="7.25" y2="2.90" stroke="#8a0e0e" stroke-width="0.6"/><line x1="9.03" y1="-2.90" x2="9.03" y2="2.90" stroke="#8a0e0e" stroke-width="0.6"/><line x1="10.68" y1="-2.90" x2="10.68" y2="2.90" stroke="#8a0e0e" stroke-width="0.6"/></g>
<g transform="translate(191.85 256.10) rotate(-60.0)"><rect x="0" y="-2.75" width="5.40" height="5.50" fill="#b8693f" stroke="#7a3b1e" stroke-width="0.3"/><rect x="5.40" y="-2.90" width="6.60" height="5.80" fill="#cf2727" stroke="#8a1010" stroke-width="0.3" rx="1.3"/><line x1="2.70" y1="-2.70" x2="2.70" y2="2.70" stroke="#7a3a1c" stroke-width="0.6"/><line x1="7.25" y1="-2.90" x2="7.25" y2="2.90" stroke="#8a0e0e" stroke-width="0.6"/><line x1="9.03" y1="-2.90" x2="9.03" y2="2.90" stroke="#8a0e0e" stroke-width="0.6"/><line x1="10.68" y1="-2.90" x2="10.68" y2="2.90" stroke="#8a0e0e" stroke-width="0.6"/></g>
<path d="M186.6 263.8 L187.2 256.8 L191.2 253.0 L195.2 256.8 L195.8 263.8 Z" fill="#22d8c8" stroke="#1a5ca6" stroke-width="0.9" stroke-linejoin="round"/>
<circle cx="189.4" cy="261.3" r="2.3" fill="#2be3d2" stroke="#18a89c" stroke-width="0.35"/>
<circle cx="193.1" cy="261.3" r="2.3" fill="#2be3d2" stroke="#18a89c" stroke-width="0.35"/>
<circle cx="191.2" cy="257.4" r="2.3" fill="#2be3d2" stroke="#18a89c" stroke-width="0.35"/>
</svg>
</body></html>
